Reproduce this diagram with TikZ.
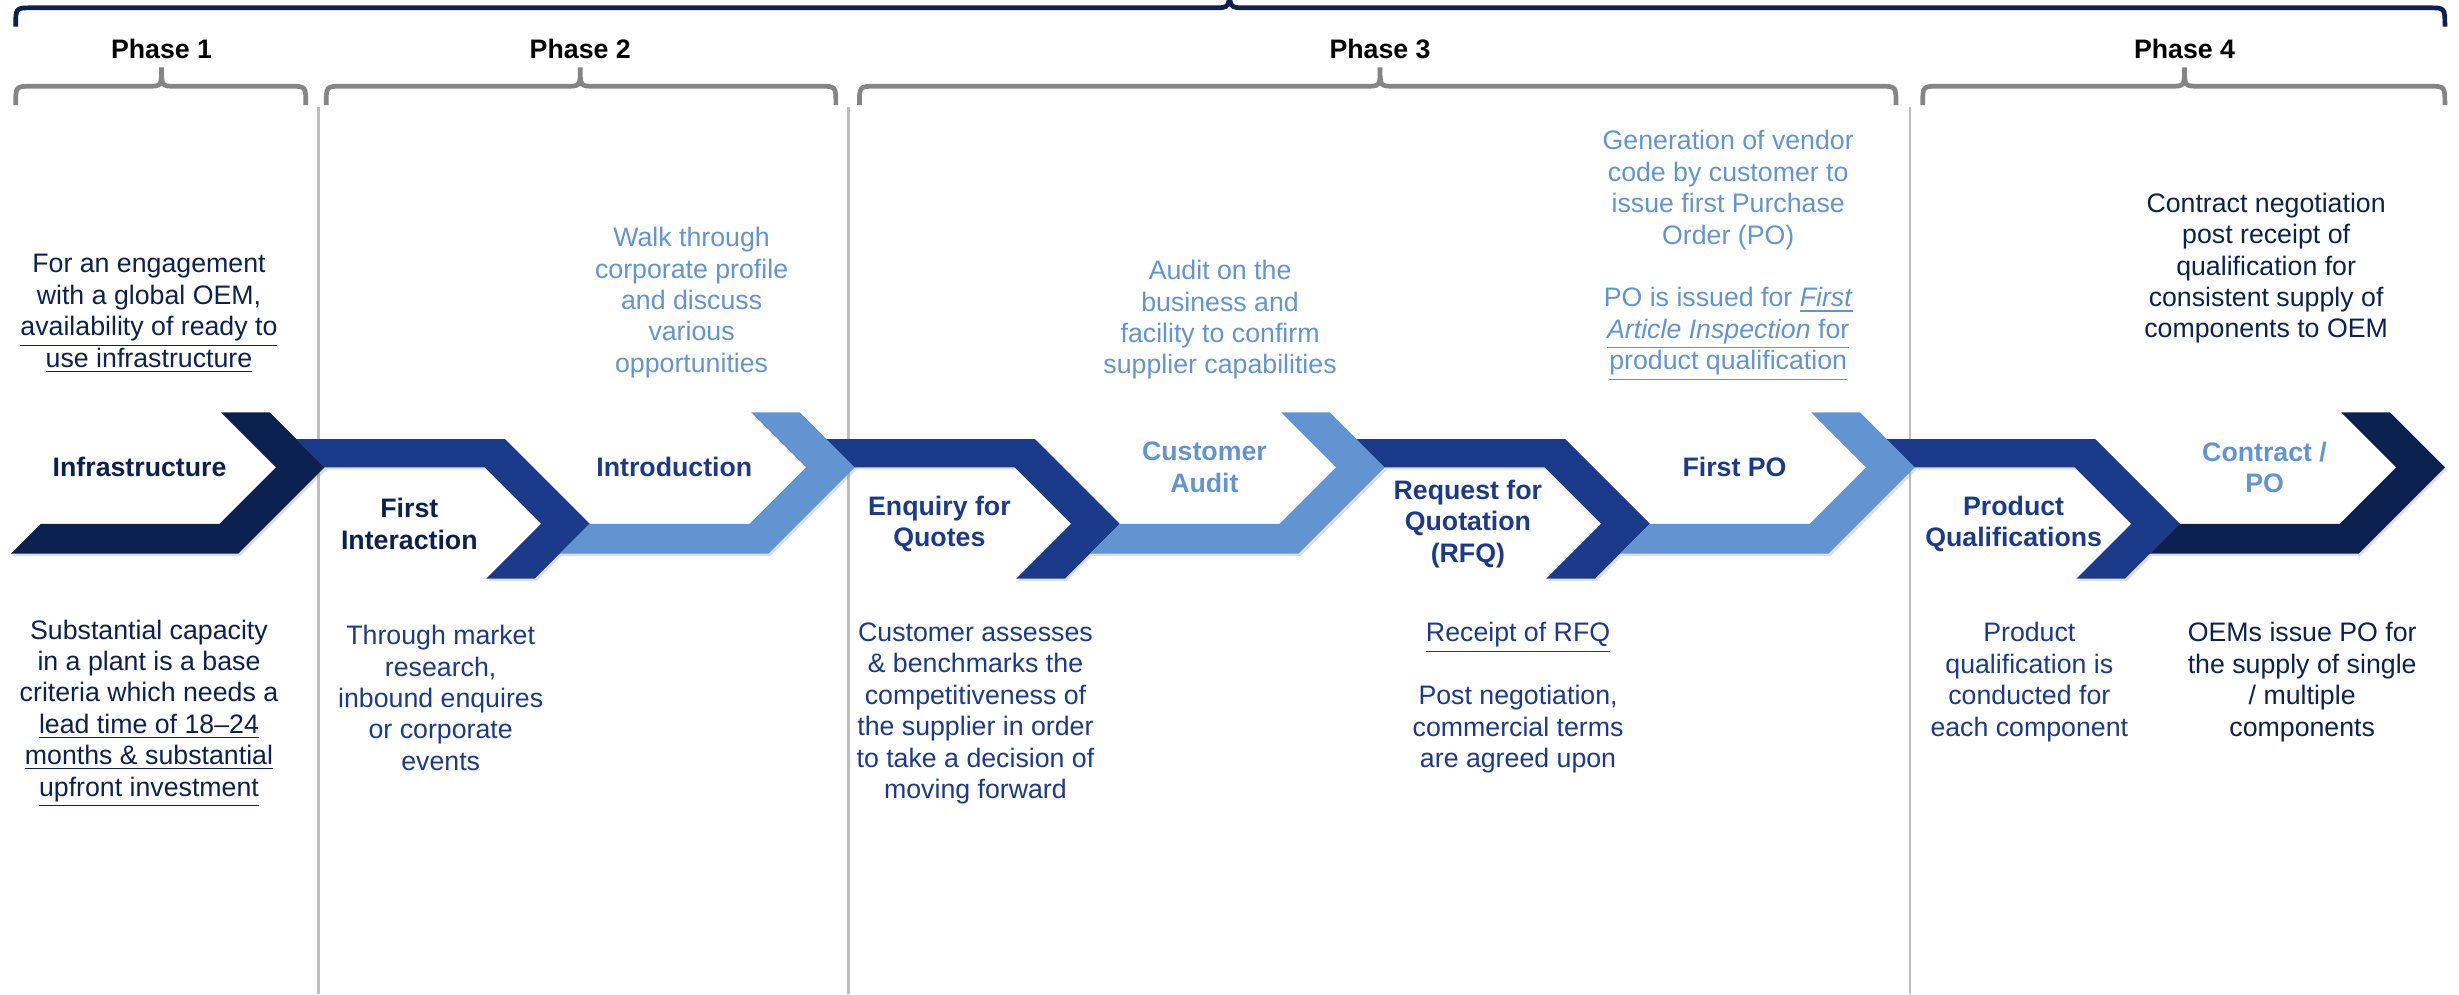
\documentclass[tikz,border=0pt]{standalone}
\usepackage{fontspec}
\setmainfont{Liberation Sans}
\usetikzlibrary{shadows}

\definecolor{navydark}{HTML}{0C2150}
\definecolor{navymid}{HTML}{1B3A8A}
\definecolor{skyblue}{HTML}{6394D2}
\definecolor{bracegray}{HTML}{858585}
\definecolor{linegray}{HTML}{BDBDBD}

\begin{document}
\begin{tikzpicture}[x=0.02cm, y=-0.02cm,
    txt/.style={align=center, inner sep=0pt, font=\fontsize{9.7}{11.4}\selectfont},
    lbl/.style={align=center, inner sep=0pt, font=\fontsize{9.7}{11.4}\selectfont\bfseries},
    chev/.style={drop shadow={opacity=0.25, shadow xshift=0.8pt, shadow yshift=-0.8pt}},
    phasebrace/.style={draw=bracegray, line width=1.7pt},
    sep/.style={draw=linegray, line width=0.9pt}]
            \useasboundingbox (0,0) rectangle (1568,634);
            \clip (0,0) rectangle (1568,634);

            \draw[draw=navydark, line width=1.7pt] (10,17) .. controls (10,5) .. (20,5) -- (774,5) .. controls (784,5) .. (784,-10) .. controls (784,5) .. (794,5) -- (1549,5) .. controls (1559,5) .. (1559,17);

            \node[lbl] (ph1) at (103,31) {Phase 1};
            \node[lbl] (ph2) at (370,31) {Phase 2};
            \node[lbl] (ph3) at (880,31) {Phase 3};
            \node[lbl] (ph4) at (1393,31) {Phase 4};

            \draw[phasebrace] (10,67) .. controls (10,55) .. (20,55) -- (94,55) .. controls (103,55) .. (103,43) .. controls (103,55) .. (112,55) -- (185,55) .. controls (195,55) .. (195,67);
            \draw[phasebrace] (208,67) .. controls (208,55) .. (218,55) -- (361,55) .. controls (370,55) .. (370,43) .. controls (370,55) .. (379,55) -- (523,55) .. controls (533,55) .. (533,67);
            \draw[phasebrace] (548,67) .. controls (548,55) .. (558,55) -- (871,55) .. controls (880,55) .. (880,43) .. controls (880,55) .. (889,55) -- (1199,55) .. controls (1209,55) .. (1209,67);
            \draw[phasebrace] (1226,67) .. controls (1226,55) .. (1236,55) -- (1384,55) .. controls (1393,55) .. (1393,43) .. controls (1393,55) .. (1402,55) -- (1549,55) .. controls (1559,55) .. (1559,67);

            \draw[sep] (203,68) -- (203,634);
            \draw[sep] (541,68) -- (541,634);
            \draw[sep] (1218,68) -- (1218,634);

            \fill[navydark, chev] (141,263) -- (172,263) -- (207,298) -- (152,353) -- (7,353) -- (26,334) -- (140,334) -- (176,298) -- cycle;
            \fill[navymid, chev] (310,369) -- (341,369) -- (376,334) -- (322,280) -- (189,280) -- (207,298) -- (309,298) -- (345,334) -- cycle;
            \fill[skyblue, chev] (479,263) -- (510,263) -- (545,298) -- (490,353) -- (357,353) -- (376,334) -- (478,334) -- (514,298) -- cycle;
            \fill[navymid, chev] (648,369) -- (679,369) -- (714,334) -- (660,280) -- (527,280) -- (545,298) -- (647,298) -- (683,334) -- cycle;
            \fill[skyblue, chev] (817,263) -- (848,263) -- (883,298) -- (828,353) -- (695,353) -- (714,334) -- (816,334) -- (852,298) -- cycle;
            \fill[navymid, chev] (986,369) -- (1017,369) -- (1052,334) -- (998,280) -- (865,280) -- (883,298) -- (985,298) -- (1021,334) -- cycle;
            \fill[skyblue, chev] (1155,263) -- (1186,263) -- (1221,298) -- (1166,353) -- (1033,353) -- (1052,334) -- (1154,334) -- (1190,298) -- cycle;
            \fill[navymid, chev] (1324,369) -- (1355,369) -- (1390,334) -- (1336,280) -- (1203,280) -- (1221,298) -- (1323,298) -- (1359,334) -- cycle;
            \fill[navydark, chev] (1493,263) -- (1524,263) -- (1559,298) -- (1504,353) -- (1371,353) -- (1390,334) -- (1492,334) -- (1528,298) -- cycle;

            \node[lbl, text=navydark] (infra) at (89,298) {Infrastructure};
            \node[lbl, text=navydark] (firstint) at (261,334) {First\\Interaction};
            \node[lbl, text=navymid] (intro) at (430,298) {Introduction};
            \node[lbl, text=navymid] (enquiry) at (599,334) {Enquiry for\\Quotes};
            \node[lbl, text=skyblue] (audit) at (768,298) {Customer\\Audit};
            \node[lbl, text=navymid] (rfq) at (936,334) {Request for\\Quotation\\(RFQ)};
            \node[lbl, text=navymid] (firstpo) at (1106,298) {First PO};
            \node[lbl, text=navymid] (prodqual) at (1284,334) {Product\\Qualifications};
            \node[lbl, text=skyblue] (contract) at (1444,298) {Contract /\\PO};

            \node[txt, text=navydark] (infratop) at (95,200) {For an engagement\\with a global OEM,\\\underline{availability of ready to}\\\underline{use infrastructure}};
            \node[txt, text=skyblue] (introtop) at (441,193) {Walk through\\corporate profile\\and discuss\\various\\opportunities};
            \node[txt, text=skyblue] (audittop) at (778,204) {Audit on the\\business and\\facility to confirm\\supplier capabilities};
            \node[txt, text=skyblue] (firstpotop) at (1102,163) {Generation of vendor\\code by customer to\\issue first Purchase\\Order (PO)\\[11.4pt]PO is issued for \underline{\textit{First}}\\\underline{\textit{Article Inspection} for}\\\underline{product qualification}};
            \node[txt, text=navydark] (contracttop) at (1445,171) {Contract negotiation\\post receipt of\\qualification for\\consistent supply of\\components to OEM};

            \node[txt, text=navydark] (infrabot) at (95,455) {Substantial capacity\\in a plant is a base\\criteria which needs a\\\underline{lead time of 18--24}\\\underline{months \& substantial}\\\underline{upfront investment}};
            \node[txt, text=navymid] (firstintbot) at (281,445) {Through market\\research,\\inbound enquires\\or corporate\\events};
            \node[txt, text=navymid] (enquirybot) at (622,455) {Customer assesses\\\& benchmarks the\\competitiveness of\\the supplier in order\\to take a decision of\\moving forward};
            \node[txt, text=navymid] (rfqbot) at (968,445) {\underline{Receipt of RFQ}\\[11.4pt]Post negotiation,\\commercial terms\\are agreed upon};
            \node[txt, text=navymid] (prodqualbot) at (1294,435) {Product\\qualification is\\conducted for\\each component};
            \node[txt, text=navydark] (contractbot) at (1468,435) {OEMs issue PO for\\the supply of single\\/ multiple\\components};
        \end{tikzpicture}
\end{document}
